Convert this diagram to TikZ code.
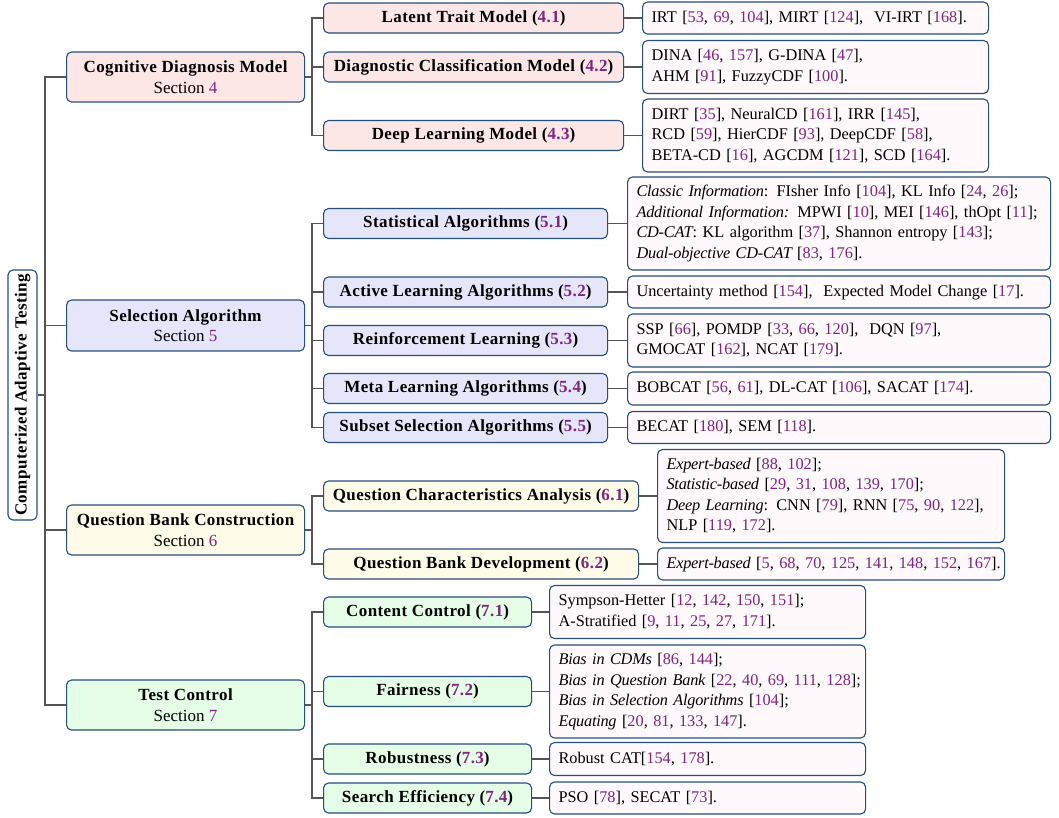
\documentclass[tikz,border=0pt]{standalone}
\usepackage{fontspec}
\setmainfont{Liberation Serif}
\newfontfamily\bwide[LetterSpace=2.5]{Liberation Serif}
\newfontfamily\inarrow[LetterSpace=-1.5]{Liberation Serif}
\definecolor{citec}{RGB}{128,36,128}
\definecolor{bordc}{RGB}{38,78,125}
\definecolor{linec}{RGB}{85,85,85}
\definecolor{fcdm}{RGB}{253,230,230}
\definecolor{fsa}{RGB}{230,230,251}
\definecolor{fqb}{RGB}{254,251,232}
\definecolor{ftc}{RGB}{229,252,230}
\definecolor{fleaf}{RGB}{255,249,251}
\newcommand{\cc}[1]{\textcolor{citec}{#1}}
\newcommand{\bt}[1]{{\bwide\bfseries #1}}
\newcommand{\ii}[1]{{\inarrow\itshape #1}}
\newcommand{\leafT}[1]{\begin{tabular}{@{}l@{}}#1\end{tabular}}
\tikzset{
  base/.style={draw=bordc, line width=1.1pt, rounded corners=5pt, inner sep=0pt,
    font=\fontsize{17}{20.5}\selectfont},
  lone/.style={base, anchor=west, minimum width=238, align=center},
  ltwo/.style={base, anchor=west, align=center, minimum height=30,
    font=\fontsize{17}{20.5}\selectfont\bwide\bfseries},
  leaf/.style={base, fill=fleaf, anchor=west, align=left, inner xsep=9pt,
    font=\fontsize{16.3}{20.5}\selectfont},
  conn/.style={draw=linec, line width=1.6pt},
}
\begin{document}
\begin{tikzpicture}[x=1pt,y=-1pt]
\useasboundingbox (0,0) rectangle (1059,817);
% root
\node[base, fill=white, rotate=90, minimum width=250, minimum height=29,
  font=\fontsize{17}{20.5}\selectfont\bwide\bfseries] (root) at (22.5,395) {Computerized Adaptive Testing};
% level 1
\node[lone, fill=fcdm, minimum height=50] (cdm) at (66,77) {\bt{Cognitive Diagnosis Model}\\Section \cc{4}};
\node[lone, fill=fsa, minimum height=51] (sa) at (66,325.5) {\bt{Selection Algorithm}\\Section \cc{5}};
\node[lone, fill=fqb, minimum height=50] (qb) at (66,530) {\bt{Question Bank Construction}\\Section \cc{6}};
\node[lone, fill=ftc, minimum height=50] (tc) at (66,705) {\bt{Test Control}\\Section \cc{7}};
% level 2
\node[ltwo, fill=fcdm, minimum width=300] (a1) at (323,18) {Latent Trait Model (\cc{4.1})};
\node[ltwo, fill=fcdm, minimum width=300] (a2) at (323,67) {Diagnostic Classification Model (\cc{4.2})};
\node[ltwo, fill=fcdm, minimum width=300] (a3) at (323,135.5) {Deep Learning Model (\cc{4.3})};
\node[ltwo, fill=fsa, minimum width=284] (b1) at (323,223.5) {Statistical Algorithms (\cc{5.1})};
\node[ltwo, fill=fsa, minimum width=284] (b2) at (323,292) {Active Learning Algorithms (\cc{5.2})};
\node[ltwo, fill=fsa, minimum width=284] (b3) at (323,340.5) {Reinforcement Learning (\cc{5.3})};
\node[ltwo, fill=fsa, minimum width=284] (b4) at (323,388.5) {Meta Learning Algorithms (\cc{5.4})};
\node[ltwo, fill=fsa, minimum width=284] (b5) at (323,427.5) {Subset Selection Algorithms (\cc{5.5})};
\node[ltwo, fill=fqb, minimum width=315] (c1) at (323,496) {Question Characteristics Analysis (\cc{6.1})};
\node[ltwo, fill=fqb, minimum width=315] (c2) at (323,564) {Question Bank Development (\cc{6.2})};
\node[ltwo, fill=ftc, minimum width=208] (d1) at (323,612) {Content Control (\cc{7.1})};
\node[ltwo, fill=ftc, minimum width=208] (d2) at (323,691.5) {Fairness (\cc{7.2})};
\node[ltwo, fill=ftc, minimum width=208] (d3) at (323,759) {Robustness (\cc{7.3})};
\node[ltwo, fill=ftc, minimum width=208] (d4) at (323,798) {Search Efficiency (\cc{7.4})};
% level 3
\node[leaf, text width=328, minimum height=32] (ra1) at (642,18) {\leafT{IRT [\cc{53}, \cc{69}, \cc{104}], MIRT [\cc{124}],\ \ VI-IRT [\cc{168}].}};
\node[leaf, text width=328, minimum height=53] (ra2) at (642,67) {\leafT{DINA [\cc{46}, \cc{157}], G-DINA [\cc{47}],\\AHM [\cc{91}], FuzzyCDF [\cc{100}].}};
\node[leaf, text width=328, minimum height=73] (ra3) at (642,135.5) {\leafT{DIRT [\cc{35}], NeuralCD [\cc{161}], IRR [\cc{145}],\\RCD [\cc{59}], HierCDF [\cc{93}], DeepCDF [\cc{58}],\\BETA-CD [\cc{16}], AGCDM [\cc{121}], SCD [\cc{164}].}};
\node[leaf, text width=405, minimum height=93] (rb1) at (627,223.5) {\leafT{\ii{Classic Information}: FIsher Info [\cc{104}], KL Info [\cc{24}, \cc{26}];\\\ii{Additional Information:} MPWI [\cc{10}], MEI [\cc{146}], thOpt [\cc{11}];\\\ii{CD-CAT}: KL algorithm [\cc{37}], Shannon entropy [\cc{143}];\\\ii{Dual-objective CD-CAT} [\cc{83}, \cc{176}].}};
\node[leaf, text width=405, minimum height=32] (rb2) at (627,292) {\leafT{Uncertainty method [\cc{154}],\ \ Expected Model Change [\cc{17}].}};
\node[leaf, text width=405, minimum height=53] (rb3) at (627,340.5) {\leafT{SSP [\cc{66}], POMDP [\cc{33}, \cc{66}, \cc{120}],\ \ DQN [\cc{97}],\\GMOCAT [\cc{162}], NCAT [\cc{179}].}};
\node[leaf, text width=405, minimum height=33] (rb4) at (627,388.5) {\leafT{BOBCAT [\cc{56}, \cc{61}], DL-CAT [\cc{106}], SACAT [\cc{174}].}};
\node[leaf, text width=405, minimum height=32] (rb5) at (627,427.5) {\leafT{BECAT [\cc{180}], SEM [\cc{118}].}};
\node[leaf, text width=329, minimum height=93] (rc1) at (657,496) {\leafT{\ii{Expert-based} [\cc{88}, \cc{102}];\\\ii{Statistic-based} [\cc{29}, \cc{31}, \cc{108}, \cc{139}, \cc{170}];\\\ii{Deep Learning}: CNN [\cc{79}], RNN [\cc{75}, \cc{90}, \cc{122}],\\NLP [\cc{119}, \cc{172}].}};
\node[leaf, text width=329, minimum height=32] (rc2) at (657,564) {\leafT{\ii{Expert-based} [\cc{5}, \cc{68}, \cc{70}, \cc{125}, \cc{141}, \cc{148}, \cc{152}, \cc{167}].}};
\node[leaf, text width=298, minimum height=53] (rd1) at (549,612) {\leafT{Sympson-Hetter [\cc{12}, \cc{142}, \cc{150}, \cc{151}];\\A-Stratified [\cc{9}, \cc{11}, \cc{25}, \cc{27}, \cc{171}].}};
\node[leaf, text width=298, minimum height=93] (rd2) at (549,691.5) {\leafT{\ii{Bias in CDMs} [\cc{86}, \cc{144}];\\\ii{Bias in Question Bank} [\cc{22}, \cc{40}, \cc{69}, \cc{111}, \cc{128}];\\\ii{Bias in Selection Algorithms} [\cc{104}];\\\ii{Equating} [\cc{20}, \cc{81}, \cc{133}, \cc{147}].}};
\node[leaf, text width=298, minimum height=33] (rd3) at (549,759) {\leafT{Robust CAT[\cc{154}, \cc{178}].}};
\node[leaf, text width=298, minimum height=32] (rd4) at (549,798) {\leafT{PSO [\cc{78}], SECAT [\cc{73}].}};
% connectors
\coordinate (trunk) at (45,395);
\draw[conn] (root) -- (trunk);
\foreach \n in {cdm,sa,qb,tc} \draw[conn] (trunk) |- (\n.west);
\coordinate (busa) at (312,77);
\coordinate (busb) at (312,325.5);
\coordinate (busc) at (312,530);
\coordinate (busd) at (312,705);
\draw[conn] (cdm.east) -- (busa);
\draw[conn] (sa.east) -- (busb);
\draw[conn] (qb.east) -- (busc);
\draw[conn] (tc.east) -- (busd);
\foreach \n in {a1,a2,a3} \draw[conn] (busa) |- (\n.west);
\foreach \n in {b1,b2,b3,b4,b5} \draw[conn] (busb) |- (\n.west);
\foreach \n in {c1,c2} \draw[conn] (busc) |- (\n.west);
\foreach \n in {d1,d2,d3,d4} \draw[conn] (busd) |- (\n.west);
\foreach \n in {a1,a2,a3,b1,b2,b3,b4,b5,c1,c2,d1,d2,d3,d4} \draw[conn] (\n.east) -- (r\n.west);
\end{tikzpicture}
\end{document}
